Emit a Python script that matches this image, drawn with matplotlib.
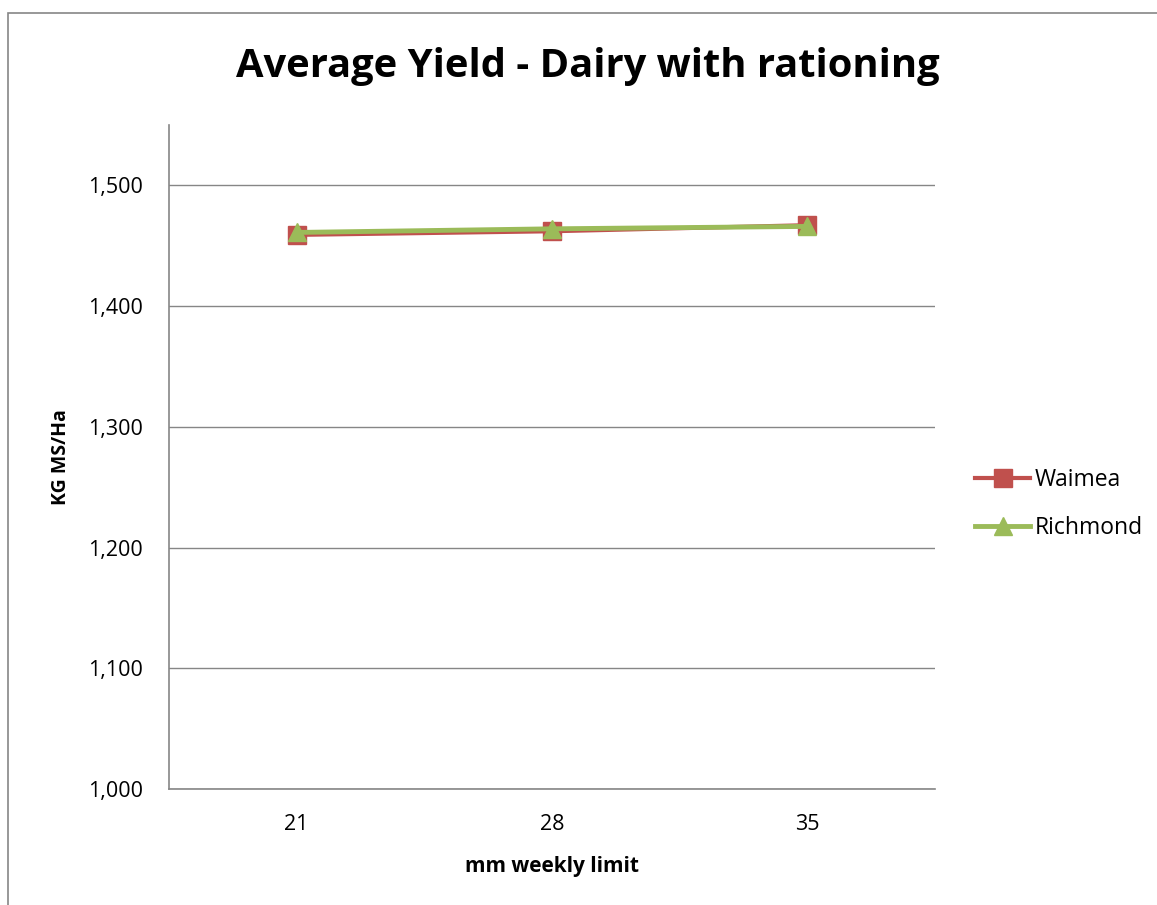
import matplotlib
matplotlib.use('Agg')
import matplotlib.pyplot as plt
from matplotlib.patches import Rectangle
from matplotlib.ticker import FuncFormatter

# chart data
limits = ['21', '28', '35']
waimea = [1459, 1462, 1467]
richmond = [1461, 1464, 1466]
y_ticks = [1000, 1100, 1200, 1300, 1400, 1500]

plt.rcParams['font.family'] = ['Open Sans', 'DejaVu Sans']

fig = plt.figure(figsize=(11.57, 9.05), dpi=100)
# chart area border (runs off the right and bottom of the image)
fig.patches.append(Rectangle((8 / 1157, -0.1), 1.2, 1.1 - 13 / 905, transform=fig.transFigure,
                             fill=False, edgecolor='#868686', linewidth=1.2))

ax = fig.add_axes([169 / 1157, 116 / 905, 766 / 1157, 664 / 905])
xs = range(len(limits))
ax.plot(xs, waimea, color='#c0504d', marker='s', markersize=12.5, linewidth=3, label='Waimea')
ax.plot(xs, richmond, color='#9bbb59', marker='^', markersize=13.5, linewidth=3.5, label='Richmond')

ax.set_xlim(-0.5, len(limits) - 0.5)
ax.set_ylim(1000, 1550)
ax.set_yticks(y_ticks)
ax.yaxis.set_major_formatter(FuncFormatter(lambda v, p: f'{int(v):,}'))
ax.set_xticks(list(xs))
ax.set_xticklabels(limits)
ax.grid(axis='y', color='#868686', linewidth=1)
ax.set_axisbelow(True)
for s in ['top', 'right']:
    ax.spines[s].set_visible(False)
for s in ['left', 'bottom']:
    ax.spines[s].set_color('#868686')
    ax.spines[s].set_linewidth(1.2)
ax.tick_params(axis='both', labelsize=15.5, length=0)
ax.tick_params(axis='y', pad=19)
ax.tick_params(axis='x', pad=18)

ax.set_xlabel('mm weekly limit', fontsize=15, fontweight='bold', labelpad=15)
ax.set_ylabel('KG MS/Ha', fontsize=14, fontweight='bold', labelpad=12)
fig.text(588 / 1157, 1 - 66 / 905, 'Average Yield - Dairy with rationing', ha='center', va='center',
         fontsize=28.7, fontweight='bold')

ax.legend(loc='center left', bbox_to_anchor=((975 - 169) / 766, (789 - 504) / 664), frameon=False,
          fontsize=16.5, borderaxespad=0, borderpad=0,
          handlelength=2.4, labelspacing=1.05, handletextpad=0.2)

fig.savefig('out.png', dpi=100)
